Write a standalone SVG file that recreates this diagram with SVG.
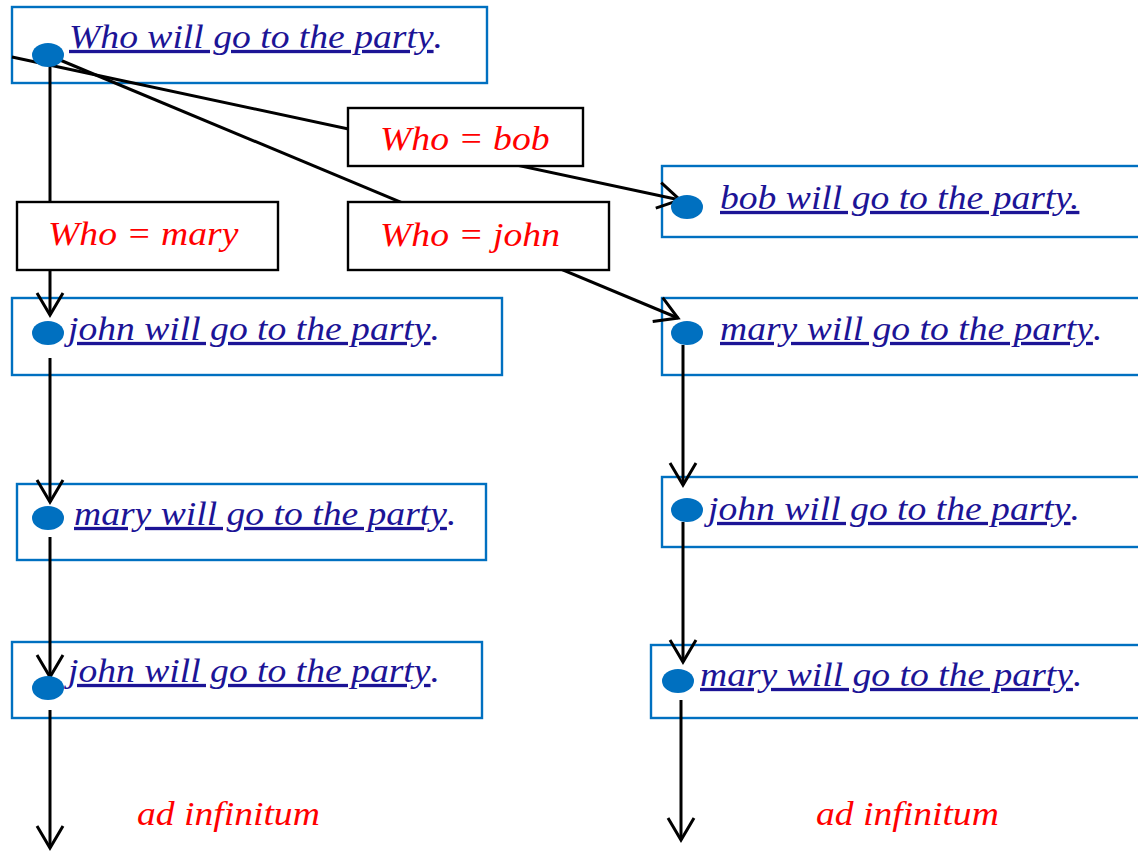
<svg xmlns="http://www.w3.org/2000/svg" width="1138" height="851" viewBox="0 0 1138 851">
  <style>
    .node { fill: #ffffff; stroke: #0070c0; stroke-width: 2.4; }
    .dot { fill: #0070c0; }
    .stmt { font-family: "Liberation Serif", "Times New Roman", serif; font-style: italic; font-size: 33px; fill: #1c1496; }
    .ul { text-decoration: underline; }
    .label { fill: #ffffff; stroke: #000000; stroke-width: 2.4; }
    .lbltext { font-family: "Liberation Serif", "Times New Roman", serif; font-style: italic; font-size: 33px; fill: #ff0000; }
    .edge { fill: none; stroke: #000000; stroke-width: 3; marker-end: url(#vhead); }
  </style>
  <defs>
    <marker id="vhead" markerUnits="userSpaceOnUse" viewBox="-26 -16 30 32" refX="0" refY="0" markerWidth="30" markerHeight="32" orient="auto" overflow="visible">
      <path d="M-22,-13 L0,0 L-22,13" fill="none" stroke="#000000" stroke-width="3"/>
    </marker>
  </defs>

  <!-- statement boxes -->
  <g id="n-who"><rect class="node" x="12" y="7" width="475" height="76"/></g>
  <g id="n-bob"><rect class="node" x="662" y="166" width="480" height="71"/></g>
  <g id="n-mary-r1"><rect class="node" x="662" y="298" width="480" height="77"/></g>
  <g id="n-john-l1"><rect class="node" x="12" y="298" width="490" height="77"/></g>
  <g id="n-mary-l"><rect class="node" x="17" y="484" width="469" height="76"/></g>
  <g id="n-john-r"><rect class="node" x="662" y="477" width="480" height="70"/></g>
  <g id="n-john-l2"><rect class="node" x="12" y="642" width="470" height="76"/></g>
  <g id="n-mary-r2"><rect class="node" x="651" y="645" width="491" height="73"/></g>

  <!-- connectors -->
  <g id="connectors">
    <line class="edge" x1="12" y1="57" x2="680" y2="200"/>
    <line class="edge" x1="48" y1="55" x2="678" y2="318"/>
    <line class="edge" x1="50" y1="60" x2="50" y2="315"/>
    <line class="edge" x1="50" y1="358" x2="50" y2="502"/>
    <line class="edge" x1="50" y1="537" x2="50" y2="677"/>
    <line class="edge" x1="50" y1="710" x2="50" y2="848"/>
    <line class="edge" x1="683" y1="345" x2="683" y2="485"/>
    <line class="edge" x1="683" y1="522" x2="683" y2="662"/>
    <line class="edge" x1="681" y1="700" x2="681" y2="840"/>
  </g>

  <!-- binding labels -->
  <g id="l-bob">
    <rect class="label" x="348" y="108" width="235" height="58"/>
    <text class="lbltext" transform="translate(380,150) scale(1.14,1)">Who = bob</text>
  </g>
  <g id="l-john">
    <rect class="label" x="348" y="202" width="261" height="68"/>
    <text class="lbltext" transform="translate(380,246) scale(1.14,1)">Who = john</text>
  </g>
  <g id="l-mary">
    <rect class="label" x="17" y="202" width="261" height="68"/>
    <text class="lbltext" transform="translate(48,245) scale(1.14,1)">Who = mary</text>
  </g>

  <!-- statement texts and dots -->
  <g id="t-who">
    <ellipse class="dot" cx="48" cy="55" rx="16" ry="12"/>
    <text class="stmt" transform="translate(69,48) scale(1.14,1)"><tspan class="ul">Who will go to the party</tspan>.</text>
  </g>
  <g id="t-bob">
    <ellipse class="dot" cx="687" cy="207" rx="16" ry="12"/>
    <text class="stmt" transform="translate(720,209) scale(1.14,1)"><tspan class="ul">bob will go to the party.</tspan></text>
  </g>
  <g id="t-mary-r1">
    <ellipse class="dot" cx="687" cy="333" rx="16" ry="12"/>
    <text class="stmt" transform="translate(720,340) scale(1.14,1)"><tspan class="ul">mary will go to the party</tspan>.</text>
  </g>
  <g id="t-john-l1">
    <ellipse class="dot" cx="48" cy="333" rx="16" ry="12"/>
    <text class="stmt" transform="translate(68,340) scale(1.14,1)"><tspan class="ul">john will go to the party</tspan>.</text>
  </g>
  <g id="t-mary-l">
    <ellipse class="dot" cx="48" cy="518" rx="16" ry="12"/>
    <text class="stmt" transform="translate(74,525) scale(1.14,1)"><tspan class="ul">mary will go to the party</tspan>.</text>
  </g>
  <g id="t-john-r">
    <ellipse class="dot" cx="687" cy="510" rx="16" ry="12"/>
    <text class="stmt" transform="translate(708,520) scale(1.14,1)"><tspan class="ul">john will go to the party</tspan>.</text>
  </g>
  <g id="t-john-l2">
    <ellipse class="dot" cx="48" cy="688" rx="16" ry="12"/>
    <text class="stmt" transform="translate(68,682) scale(1.14,1)"><tspan class="ul">john will go to the party</tspan>.</text>
  </g>
  <g id="t-mary-r2">
    <ellipse class="dot" cx="678" cy="681" rx="16" ry="12"/>
    <text class="stmt" transform="translate(700,686) scale(1.14,1)"><tspan class="ul">mary will go to the party</tspan>.</text>
  </g>

  <!-- continuation notes -->
  <text class="lbltext" transform="translate(137,825) scale(1.14,1)">ad infinitum</text>
  <text class="lbltext" transform="translate(816,825) scale(1.14,1)">ad infinitum</text>
</svg>
